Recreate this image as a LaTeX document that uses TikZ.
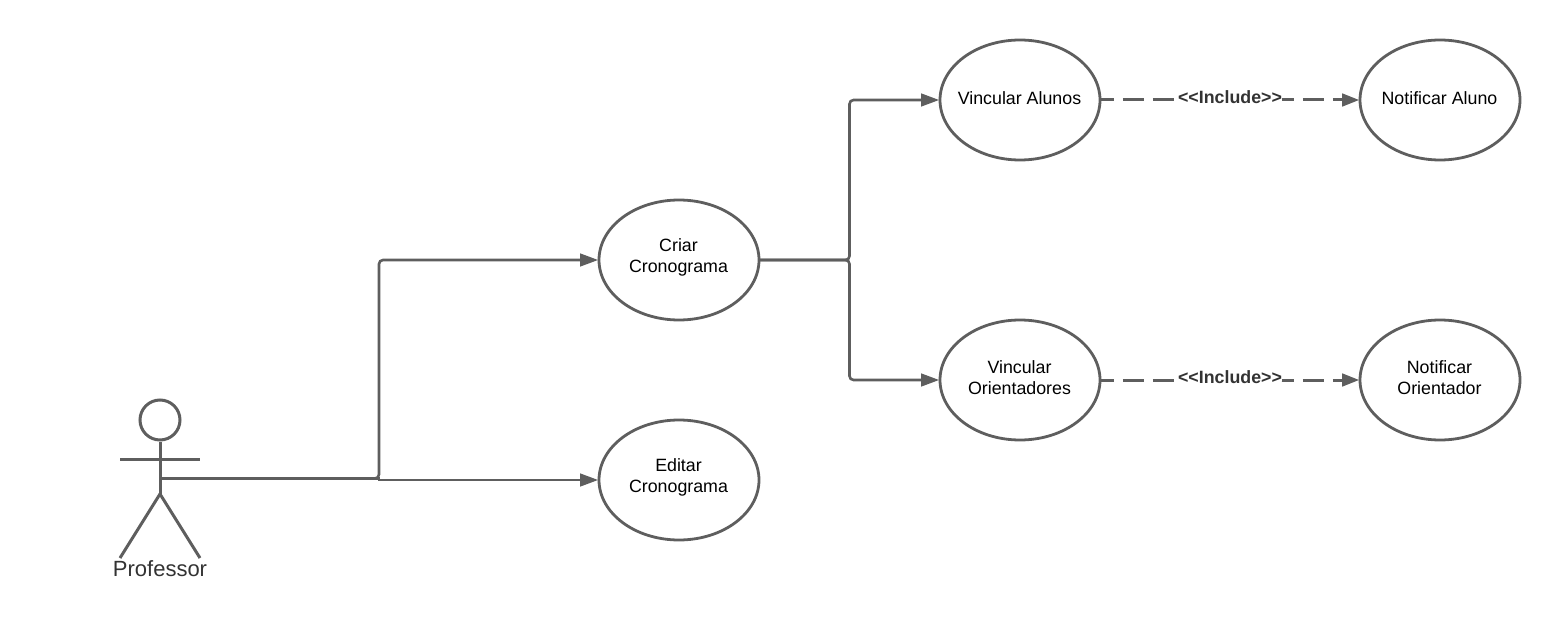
\documentclass[tikz,border=0pt]{standalone}
\usepackage{fontspec}
\setmainfont{Liberation Sans}
\usetikzlibrary{arrows.meta,shapes.geometric}
\definecolor{stroke}{HTML}{5E5E5E}
\definecolor{labelgray}{HTML}{333333}
\tikzset{
  x=1pt,y=-1pt,
  usecase/.style={ellipse,draw=stroke,line width=2.8pt,fill=white,minimum width=160pt,minimum height=120pt,inner sep=0pt,outer sep=0.8pt},
  uctext/.style={align=center,font=\fontsize{17.8}{21.3}\selectfont,text=black,yshift=2.3pt,xshift=-0.5pt},
  conn/.style={draw=stroke,line width=2.6pt,rounded corners=4pt,-{Triangle[length=18pt,width=12.5pt]}},
  incl/.style={conn,line width=3pt,dash pattern=on 21pt off 9pt,dash phase=8pt,-{Triangle[length=17pt,width=12.5pt]}},
  inclabel/.style={font=\bfseries\fontsize{17.8}{21}\selectfont,text=labelgray,fill=white,inner xsep=0pt,inner ysep=1pt},
  stick/.style={draw=stroke,line width=3pt},
}
\begin{document}
\begin{tikzpicture}
\useasboundingbox (0,0) rectangle (1560,620);
\node[usecase,label={[uctext]center:Criar\\Cronograma}] (criar) at (679,260) {};
\node[usecase,label={[uctext]center:Editar\\Cronograma}] (editar) at (679,480) {};
\node[usecase,label={[uctext]center:Vincular Alunos}] (valunos) at (1020,100) {};
\node[usecase,label={[uctext]center:Vincular\\Orientadores}] (vorient) at (1020,380) {};
\node[usecase,label={[uctext]center:Notificar Aluno}] (naluno) at (1440,100) {};
\node[usecase,label={[uctext]center:Notificar\\Orientador}] (norient) at (1440,380) {};
% actor
\node[circle,draw=stroke,line width=3pt,minimum size=40pt,inner sep=0pt] (head) at (160,420) {};
\coordinate (hip) at (160,494);
\coordinate (armL) at (120,459);
\coordinate (armR) at (200,459);
\coordinate (legL) at (120,558);
\coordinate (legR) at (200,558);
\coordinate (hand) at (160,478.5);
\draw[stick] (head.south) -- (hip);
\draw[stick] (armL) -- (armR);
\draw[stick,line join=miter] (legL) -- (hip) -- (legR);
\node[font=\fontsize{22}{26}\selectfont,text=labelgray] (prof) at (160,568.5) {Professor};
% connectors
\coordinate (bendA) at (379,478.5);
\coordinate (bendB) at (379,480);
\coordinate (hubC) at (849.5,260);
\draw[conn] (hand) -- (bendA) -- (bendA |- criar.west) -- (criar.west);
\draw[conn,rounded corners=0pt] (hand) -- (bendA) -- (bendB) -- (editar.west);
\draw[conn] (criar.east) -- (hubC) -- (hubC |- valunos.west) -- (valunos.west);
\draw[conn] (criar.east) -- (hubC) -- (hubC |- vorient.west) -- (vorient.west);
\draw[incl] (valunos.east) -- (naluno.west) node[inclabel,pos=0.5,yshift=2.5pt] (inc1) {<{}<Include>{}>};
\draw[incl] (vorient.east) -- (norient.west) node[inclabel,pos=0.5,yshift=2.5pt] (inc2) {<{}<Include>{}>};
\end{tikzpicture}
\end{document}
